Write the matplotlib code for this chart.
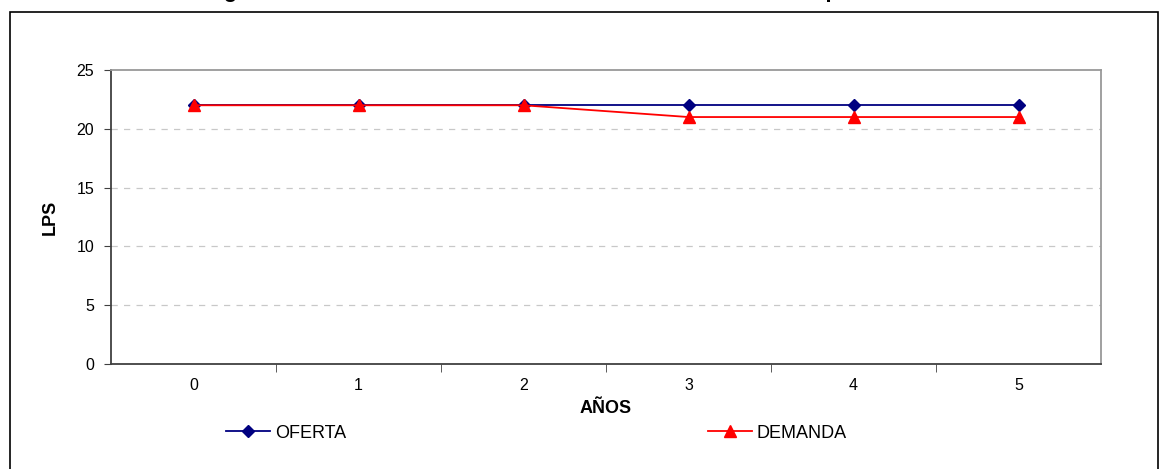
import matplotlib
matplotlib.use('Agg')
import matplotlib.pyplot as plt
from matplotlib.patches import Rectangle

plt.rcParams['font.family'] = ['Liberation Sans', 'DejaVu Sans']

years = [0, 1, 2, 3, 4, 5]
oferta = [22, 22, 22, 22, 22, 22]
demanda = [22, 22, 22, 21, 21, 21]
y_ticks = [0, 5, 10, 15, 20, 25]

W, H = 1160, 469
fig = plt.figure(figsize=(W / 100, H / 100), dpi=100)

# outer chart frame (cut off at bottom in the original)
fig.patches.append(Rectangle((10 / W, -0.05), 1148 / W, 1.05 - 12 / H,
                             transform=fig.transFigure, fill=False,
                             edgecolor='black', linewidth=1.2))

# title sits mostly above the visible area, as in the original
fig.text(528 / W, 1 + 3 / H, 'Figura 3. Balance Hídrico de Oferta vs Demanda en el Tiempo',
         ha='center', va='baseline', fontsize=16, fontweight='bold')

ax = fig.add_axes([111 / W, 1 - 364 / H, 990 / W, 294 / H])
ax.plot(years, oferta, color='#000080', marker='D', markersize=6,
        linewidth=1.3, label='OFERTA')
ax.plot(years, demanda, color='red', marker='^', markersize=8,
        linewidth=1.3, label='DEMANDA')

ax.set_xlim(-0.5, 5.5)
ax.set_ylim(0, 25)
ax.set_yticks(y_ticks)
ax.set_xticks(years)
ax.set_xticks([x + 0.5 for x in years[:-1]], minor=True)
ax.tick_params(axis='x', which='major', length=0, pad=10, labelsize=11.5)
ax.tick_params(axis='x', which='minor', length=6, direction='out', color='#404040')
ax.tick_params(axis='y', length=5, direction='out', labelsize=11.5, pad=7,
               color='#404040')

for v in y_ticks[1:-1]:
    ax.axhline(v, color='#c8c8c8', linestyle=(0, (5, 5)), linewidth=0.9, zorder=0)

for s in ax.spines.values():
    s.set_color('#999999')
    s.set_linewidth(1.3)
ax.spines['bottom'].set_color('#404040')
ax.spines['left'].set_color('#404040')

ax.set_xlabel('AÑOS', fontsize=13, fontweight='bold', labelpad=5)
ax.set_ylabel('LPS', fontsize=13, fontweight='bold', labelpad=13)

fig.legend(loc='center left', bbox_to_anchor=(226 / W, 1 - 433 / H), ncol=2,
           frameon=False, fontsize=13, columnspacing=20, handlelength=2.45,
           handletextpad=0.28, borderpad=0, borderaxespad=0)

fig.savefig('out.png', dpi=100)
